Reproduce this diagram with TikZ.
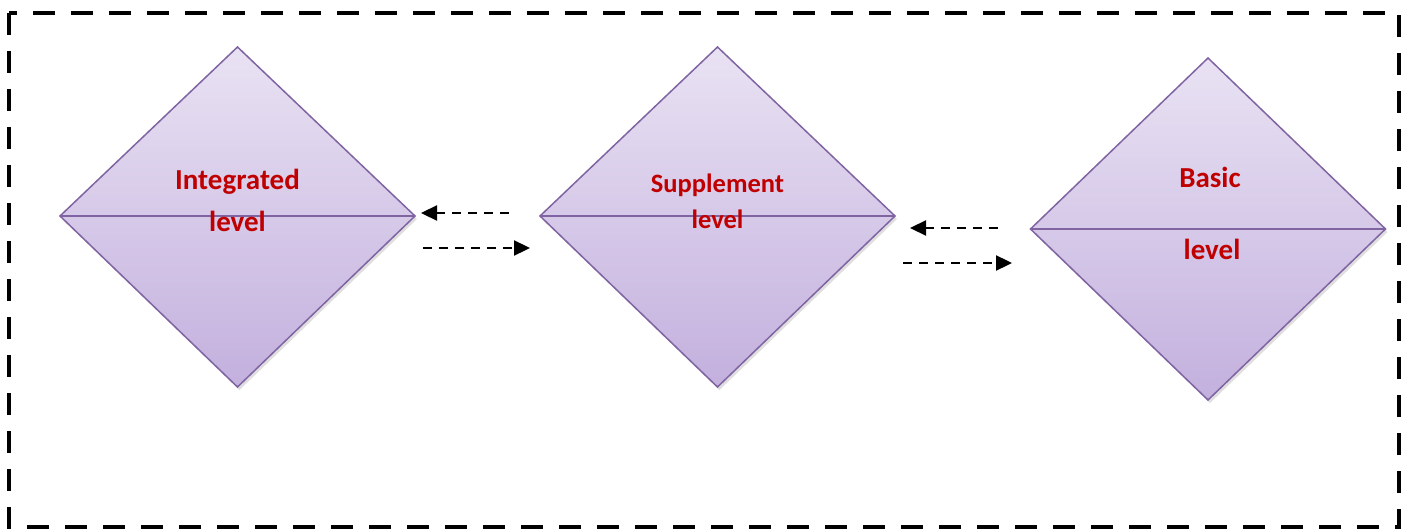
\documentclass[tikz,border=0pt]{standalone}
\usepackage{fontspec}
\setmainfont{Carlito}
\usetikzlibrary{arrows.meta}
\definecolor{dred}{HTML}{C00000}
\definecolor{dpurple}{HTML}{8064A2}
\definecolor{ltop}{HTML}{E9E2F3}
\definecolor{lbot}{HTML}{C3B0DE}
\tikzset{
  frame/.style={line width=4pt, dash pattern=on 22pt off 16pt},
  dshape/.style={draw=dpurple, line width=1.5pt, line join=miter, top color=ltop, bottom color=lbot},
  lbl/.style={text=dred, font=\bfseries, inner sep=0pt, anchor=base},
  conn/.style={line width=2.3pt, dash pattern=on 9pt off 7pt, -{Triangle[length=16pt,width=15pt]}}
}
\newcommand{\mydiamond}[5]{% name, cx, top, mid, bottom ; half-width 177.5
  \coordinate (#1t) at (#2,#3);
  \coordinate (#1b) at (#2,#5);
  \coordinate (#1l) at (#2-177.5,#4);
  \coordinate (#1r) at (#2+177.5,#4);
  \fill[black!25, opacity=0.5] ([xshift=2pt,yshift=-3pt]#1t) -- ([xshift=2pt,yshift=-3pt]#1r) -- ([xshift=2pt,yshift=-3pt]#1b) -- ([xshift=2pt,yshift=-3pt]#1l) -- cycle;
  \path[dshape] (#1t) -- (#1r) -- (#1b) -- (#1l) -- cycle;
  \draw[dpurple, line width=1.5pt] (#1l) -- (#1r);
}
\begin{document}
\begin{tikzpicture}[x=1pt,y=-1pt]
\useasboundingbox (0,0) rectangle (1413,532);
\draw[frame] (9,13) rectangle (1399,527);
\mydiamond{a}{237.5}{47}{216}{387}
\mydiamond{b}{717.5}{47}{216}{387}
\mydiamond{c}{1208}{58}{229}{400}
% labels
\node[lbl, font=\bfseries\fontsize{29}{29}\selectfont] (a1) at (237.5,189) {Integrated};
\node[lbl, font=\bfseries\fontsize{29}{29}\selectfont] (a2) at (237.5,231) {level};
\node[lbl, font=\bfseries\fontsize{26.5}{26.5}\selectfont] (b1) at (717.5,192) {Supplement};
\node[lbl, font=\bfseries\fontsize{26.5}{26.5}\selectfont] (b2) at (717.5,228) {level};
\node[lbl, font=\bfseries\fontsize{29}{29}\selectfont] (c1) at (1210,187) {Basic};
\node[lbl, font=\bfseries\fontsize{29}{29}\selectfont] (c2) at (1212,259) {level};
% connectors
\coordinate (p1s) at (509,213); \coordinate (p1e) at (421,213);
\coordinate (p2s) at (423,248); \coordinate (p2e) at (530,248);
\coordinate (p3s) at (998,228); \coordinate (p3e) at (910,228);
\coordinate (p4s) at (903,263); \coordinate (p4e) at (1012,263);
\draw[conn] (p1s) -- (p1e);
\draw[conn] (p2s) -- (p2e);
\draw[conn] (p3s) -- (p3e);
\draw[conn] (p4s) -- (p4e);
\end{tikzpicture}
\end{document}
